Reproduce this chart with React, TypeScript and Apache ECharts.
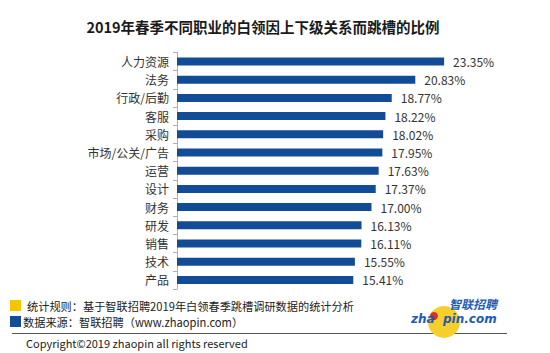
import React, { useEffect, useRef } from "react";
import * as echarts from "echarts";

const categories = ["人力资源", "法务", "行政/后勤", "客服", "采购", "市场/公关/广告", "运营", "设计", "财务", "研发", "销售", "技术", "产品"];
const values = [23.35, 20.83, 18.77, 18.22, 18.02, 17.95, 17.63, 17.37, 17.0, 16.13, 16.11, 15.55, 15.41];
const titleText = "2019年春季不同职业的白领因上下级关系而跳槽的比例";
const note1 = "统计规则：基于智联招聘2019年白领春季跳槽调研数据的统计分析";
const note2 = "数据来源：智联招聘（www.zhaopin.com）";
const copyright = "Copyright©2019 zhaopin all rights reserved";

const FONT = "'Noto Sans CJK SC', 'Noto Sans', sans-serif";
const BAR = "#124C97";

export default function App() {
  const ref = useRef<HTMLDivElement>(null);
  useEffect(() => {
    document.body.style.margin = "0";
    const chart = echarts.init(ref.current!, null, { renderer: "svg" });
    chart.setOption({
      animation: false,
      backgroundColor: "#ffffff",
      title: {
        text: titleText,
        left: 258,
        textAlign: "center",
        top: 14,
        textStyle: { fontFamily: FONT, fontSize: 14.5, fontWeight: "bold", color: "#1a1a1a" },
      },
      grid: { left: 177, top: 52.4, height: 236.6, right: 87 },
      xAxis: {
        type: "value",
        min: 0,
        max: 25,
        show: false,
      },
      yAxis: {
        type: "category",
        inverse: true,
        data: categories,
        axisLine: { show: true, lineStyle: { color: "#b0b0b0", width: 1 } },
        axisTick: { show: true, length: 4, inside: false, lineStyle: { color: "#b0b0b0" } },
        axisLabel: { fontFamily: FONT, fontSize: 12, color: "#333", margin: 8 },
      },
      series: [
        {
          type: "bar",
          data: values,
          barWidth: 8,
          itemStyle: { color: BAR },
          label: {
            show: true,
            position: "right",
            distance: 9,
            fontFamily: FONT,
            fontSize: 12,
            color: "#333",
            formatter: (p: any) => p.value.toFixed(2) + "%",
          },
        },
      ],
      graphic: [
        { type: "rect", shape: { x: 10, y: 300, width: 11, height: 11 }, style: { fill: "#F6C500" } },
        { type: "text", x: 27, y: 306, style: { text: note1, fontFamily: FONT, fontSize: 11.2, fill: "#222", textVerticalAlign: "middle" } },
        { type: "rect", shape: { x: 10, y: 316, width: 11, height: 11 }, style: { fill: BAR } },
        { type: "text", x: 23, y: 322, style: { text: note2, fontFamily: FONT, fontSize: 11.2, fill: "#222", textVerticalAlign: "middle" } },
        { type: "line", shape: { x1: 12, y1: 333.5, x2: 507, y2: 333.5 }, style: { stroke: "#555", lineWidth: 1 } },
        { type: "text", x: 26, y: 343, style: { text: copyright, fontFamily: FONT, fontSize: 11, fill: "#222", textVerticalAlign: "middle" } },
        { type: "circle", shape: { cx: 444, cy: 322, r: 16 }, style: { fill: "#F7CF2C" } },
        { type: "circle", shape: { cx: 434, cy: 316, r: 4 }, style: { fill: "#D3302A" } },
        { type: "text", x: 449, y: 303.5, style: { text: "智联招聘", fontFamily: FONT, fontSize: 12, fontWeight: "bold", fontStyle: "italic", fill: "#1E5CB3", textVerticalAlign: "middle" } },
        { type: "text", x: 411, y: 318.5, style: { text: "zha  pin.com", fontFamily: "'DejaVu Sans', sans-serif", fontSize: 12, fontWeight: "bold", fontStyle: "italic", fill: "#1E5CB3", textVerticalAlign: "middle" } },
      ],
    });
    return () => chart.dispose();
  }, []);
  return <div ref={ref} style={{ width: 550, height: 353 }} />;
}
